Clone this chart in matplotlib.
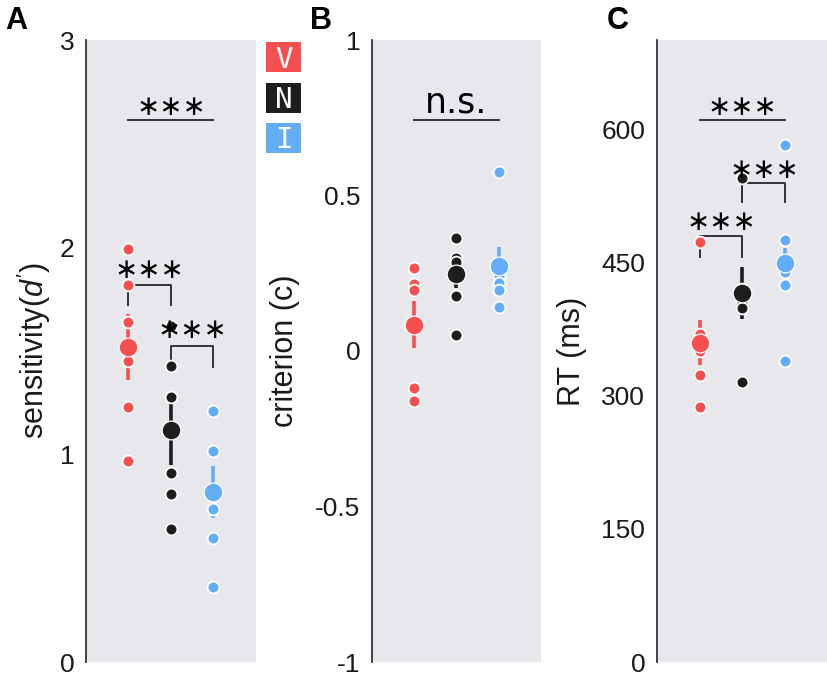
# ============================================================
#  Discrimination task — d', criterion and RT per condition
# ============================================================
import matplotlib
matplotlib.use("Agg")
import matplotlib.pyplot as plt
from matplotlib.patches import Rectangle

RED, BLACK, BLUE = "#F5504F", "#1E1E1E", "#62ADF5"
GREY_BG = "#E8E7EC"
LINE = "#333333"

# ── Data ─────────────────────────────────────────────────────
groups = ["V", "N", "I"]
group_x = [1, 2, 3]

dprime_V = [1.99, 1.82, 1.64, 1.45, 1.23, 0.97]
dprime_N = [1.62, 1.43, 1.28, 0.91, 0.81, 0.64]
dprime_I = [1.21, 1.02, 0.80, 0.74, 0.60, 0.36]
dprime_mean = [1.52, 1.12, 0.82]
dprime_sem = [0.16, 0.17, 0.125]

crit_V = [0.268, 0.214, 0.197, 0.09, -0.12, -0.16]
crit_N = [0.364, 0.30, 0.285, 0.25, 0.176, 0.053]
crit_I = [0.577, 0.255, 0.24, 0.22, 0.197, 0.143]
crit_mean = [0.085, 0.246, 0.272]
crit_sem = [0.075, 0.045, 0.063]

rt_V = [473, 370, 355, 350, 323, 287]
rt_N = [546, 420, 410, 405, 399, 316]
rt_I = [583, 476, 445, 440, 425, 339]
rt_mean = [360, 416, 450]
rt_sem = [25, 29, 17]

# significance annotations: (x1, x2, top, leg bottom, text y, label)
sig_A = [(1, 3, 2.614, None, 2.675, "∗∗∗"),
         (1, 2, 1.82, 1.724, 1.89, "∗∗∗"),
         (2, 3, 1.526, 1.425, 1.603, "∗∗∗")]
sig_B = [(1, 3, 0.743, None, 0.766, "n.s.")]
sig_C = [(1, 3, 611, None, 625, "∗∗∗"),
         (1, 2, 479.6, 457, 496, "∗∗∗"),
         (2, 3, 540, 518, 555, "∗∗∗")]


def _apply_style():
    plt.rcParams.update({
        "font.family": ["Liberation Sans", "DejaVu Sans"],
        "mathtext.fontset": "custom",
        "mathtext.rm": "Liberation Sans",
        "mathtext.it": "Liberation Sans:italic",
        "figure.facecolor": "white",
        "axes.linewidth": 1.3,
    })


def _setup_axes(ax, yticks, yticklabels, ylim, ylabel, label_x):
    ax.set_facecolor(GREY_BG)
    for side in ["top", "right", "bottom"]:
        ax.spines[side].set_visible(False)
    ax.spines["left"].set_color(LINE)
    ax.set_xlim(0, 4)
    ax.set_xticks([])
    ax.set_ylim(*ylim)
    ax.set_yticks(yticks)
    ax.set_yticklabels(yticklabels)
    ax.tick_params(axis="y", length=0, pad=8.5, labelsize=19,
                   labelcolor="#1A1A1A")
    ax.set_ylabel(ylabel, fontsize=22, color="#1A1A1A")
    ax.yaxis.set_label_coords(label_x, 0.5)


def _draw_groups(ax, series, means, sems):
    for x, vals, m, s, c in zip(group_x, series, means, sems,
                                [RED, BLACK, BLUE]):
        # SEM line below the single subjects, mean marker on top
        ax.vlines(x, m - s, m + s, color=c, lw=2.6, zorder=2)
        ax.plot([x] * len(vals), vals, "o", ms=8.5, color=c, mec="white",
                mew=1.3, zorder=3, linestyle="none")
        ax.plot(x, m, "o", ms=13.5, color=c, mec="white", mew=0.9, zorder=4)


def _draw_sig(ax, sigs):
    for x1, x2, top, leg, ty, label in sigs:
        if leg is None:
            ax.plot([x1, x2], [top, top], color=LINE, lw=1.4, zorder=1.5)
        else:
            ax.plot([x1, x1, x2, x2], [leg, top, top, leg],
                    color=LINE, lw=1.4, zorder=1.5)
        if label == "n.s.":
            ax.text((x1 + x2) / 2, ty, label, ha="center", va="baseline",
                    fontsize=25, family="DejaVu Sans", color="black",
                    zorder=5)
        else:
            ax.text((x1 + x2) / 2, ty, label, ha="center", va="center",
                    fontsize=20, family="DejaVu Sans", color="black",
                    zorder=5)


_apply_style()
fig = plt.figure(figsize=(8.28, 6.75), dpi=100)

bottom, height = 13 / 675, 622 / 675
ax_a = fig.add_axes([86 / 828, bottom, 170 / 828, height])
ax_b = fig.add_axes([372 / 828, bottom, 169 / 828, height])
ax_c = fig.add_axes([657 / 828, bottom, 171 / 828, height])

# ── A: sensitivity ───────────────────────────────────────────
_setup_axes(ax_a, [0, 1, 2, 3], ["0", "1", "2", "3"], (0, 3),
            r"sensitivity$\mathit{(d')}$", -0.194)
_draw_groups(ax_a, [dprime_V, dprime_N, dprime_I], dprime_mean, dprime_sem)
_draw_sig(ax_a, sig_A)

# ── B: criterion ─────────────────────────────────────────────
_setup_axes(ax_b, [-1, -0.5, 0, 0.5, 1], ["-1", "-0.5", "0", "0.5", "1"],
            (-1, 1), "criterion (c)", -0.426)
_draw_groups(ax_b, [crit_V, crit_N, crit_I], crit_mean, crit_sem)
_draw_sig(ax_b, sig_B)

# ── C: reaction time ─────────────────────────────────────────
_setup_axes(ax_c, [0, 150, 300, 450, 600],
            ["0", "150", "300", "450", "600"], (0, 701),
            "RT (ms)", -0.409)
_draw_groups(ax_c, [rt_V, rt_N, rt_I], rt_mean, rt_sem)
_draw_sig(ax_c, sig_C)

# ── Panel letters ────────────────────────────────────────────
for letter, xpx in [("A", 5), ("B", 310), ("C", 607)]:
    fig.text(xpx / 828, 1 - 6 / 675, letter, ha="left", va="top",
             fontsize=22, fontweight="bold", color="black")

# ── Condition legend (coloured boxes) ────────────────────────
for g, c, ytop in zip(groups, [RED, BLACK, BLUE], [42, 83, 123]):
    x0, y0 = 266 / 828, 1 - (ytop + 30) / 675
    fig.patches.append(Rectangle((x0, y0), 35 / 828, 30 / 675,
                                 transform=fig.transFigure,
                                 facecolor=c, edgecolor="none"))
    fig.text(x0 + 17.5 / 828, y0 + 4.5 / 675, g, ha="center",
             va="baseline", fontsize=21, family="DejaVu Sans Mono",
             color="white")

fig.savefig("out.png", dpi=100, facecolor="white")
